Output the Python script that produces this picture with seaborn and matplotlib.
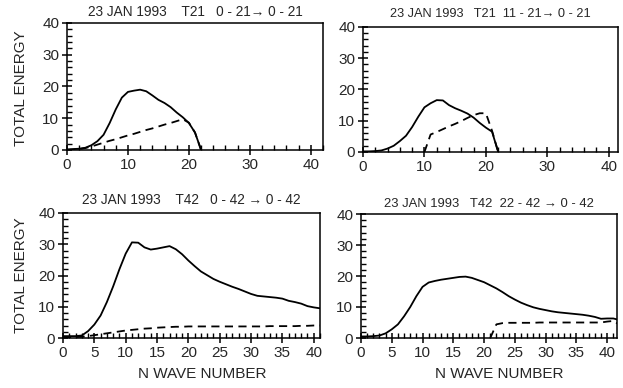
import matplotlib
matplotlib.use("Agg")
import matplotlib.pyplot as plt
from matplotlib.ticker import MultipleLocator
import pandas as pd
import seaborn as sns

# Wave numbers for the two truncations
wave_t21 = list(range(0, 23))
wave_t42 = list(range(0, 43))

# T21, 0-21 -> 0-21
t21_full_total = [0.2, 0.3, 0.4, 0.7, 1.5, 2.8, 4.8, 8.5, 12.8, 16.5, 18.3, 18.7,
                  19.0, 18.5, 17.2, 15.8, 14.8, 13.5, 11.8, 10.3, 8.5, 5.5, 0.0]
t21_full_part = [0.0, 0.1, 0.3, 0.6, 1.1, 1.7, 2.3, 2.9, 3.4, 4.0, 4.6, 5.1,
                 5.7, 6.3, 6.8, 7.4, 8.0, 8.5, 9.1, 9.7, 8.6, 5.5, 0.0]

# T21, 11-21 -> 0-21
t21_high_total = [0.2, 0.2, 0.3, 0.5, 1.1, 2.0, 3.5, 5.2, 8.0, 11.3, 14.3, 15.6,
                  16.6, 16.5, 15.0, 14.0, 13.2, 12.3, 11.0, 9.3, 7.8, 6.5, 0.0]
t21_high_start = 10
t21_high_part = [0.0, 5.6, 6.4, 7.3, 8.2, 9.0, 9.9, 10.9, 11.8, 12.4, 12.4, 6.8, 0.0]

# T42, 0-42 -> 0-42
t42_full_total = [0.6, 0.6, 0.6, 0.8, 2.2, 4.3, 7.2, 11.5, 16.5, 22.0, 27.0, 30.6,
                  30.5, 29.0, 28.3, 28.6, 29.0, 29.4, 28.4, 26.8, 24.8, 23.0, 21.3,
                  20.1, 18.9, 18.0, 17.2, 16.4, 15.7, 14.9, 14.1, 13.5, 13.3, 13.1,
                  12.9, 12.6, 11.9, 11.5, 11.0, 10.2, 9.8, 9.5, 9.3]
t42_full_part = [0.2, 0.2, 0.3, 0.4, 0.6, 0.9, 1.2, 1.5, 1.8, 2.1, 2.4, 2.6,
                 2.8, 3.0, 3.1, 3.3, 3.4, 3.5, 3.6, 3.6, 3.7, 3.7, 3.7, 3.7,
                 3.7, 3.7, 3.7, 3.7, 3.7, 3.7, 3.7, 3.7, 3.7, 3.8, 3.8, 3.8,
                 3.8, 3.8, 3.9, 3.9, 4.0, 4.0, 4.0]

# T42, 22-42 -> 0-42
t42_high_total = [0.5, 0.5, 0.6, 0.8, 1.5, 2.8, 4.4, 7.0, 10.0, 13.5, 16.5, 17.9,
                  18.4, 18.8, 19.1, 19.4, 19.7, 19.8, 19.4, 18.7, 18.0, 17.0, 16.0,
                  14.8, 13.5, 12.4, 11.4, 10.6, 9.9, 9.4, 9.0, 8.6, 8.3, 8.1,
                  7.9, 7.7, 7.5, 7.2, 6.8, 6.2, 6.3, 6.3, 5.8]
t42_high_start = 21
t42_high_part = [0.0, 4.4, 4.8, 4.9, 4.9, 4.9, 4.9, 4.9, 5.0, 5.0, 5.0, 5.0,
                 5.0, 5.0, 5.0, 5.0, 5.0, 5.0, 5.0, 5.3, 5.5, 4.3]

titles = [
    "23 JAN 1993    T21   0 - 21\u2192 0 - 21",
    "23 JAN 1993   T21  11 - 21\u2192 0 - 21",
    "23 JAN 1993    T42   0 - 42 \u2192 0 - 42",
    "23 JAN 1993   T42  22 - 42 \u2192 0 - 42",
]
title_sizes = [9.8, 9.2, 9.8, 9.4]
y_label = "TOTAL ENERGY"
x_label = "N WAVE NUMBER"

sns.set_style("ticks")
plt.rcParams["font.family"] = ["Liberation Sans", "DejaVu Sans"]

W, H = 623, 388
fig = plt.figure(figsize=(W / 100, H / 100), dpi=100)


def add_axes(left, top, right, bottom):
    return fig.add_axes([left / W, 1 - bottom / H, (right - left) / W, (bottom - top) / H])


ax_tl = add_axes(67, 23, 323, 150)
ax_tr = add_axes(363, 27, 618, 152)
ax_bl = add_axes(63, 213, 320, 338)
ax_br = add_axes(361, 214, 617, 338)

panels = [
    (ax_tl, wave_t21, t21_full_total, wave_t21, t21_full_part, 42.0, 10, 2, 5.0),
    (ax_tr, wave_t21, t21_high_total, wave_t21[t21_high_start:], t21_high_part, 41.5, 10, 2, 7.5),
    (ax_bl, wave_t42, t42_full_total, wave_t42, t42_full_part, 41.0, 5, 1, 6.5),
    (ax_br, wave_t42, t42_high_total, wave_t42[t42_high_start:], t42_high_part, 41.6, 5, 1, 5.0),
]

dash = (0, (4.5, 3.0))
for (ax, xs, ys, xp, yp, xmax, xmaj, xmin, pad), title, tsize in zip(panels, titles, title_sizes):
    total = pd.DataFrame({"n": xs, "energy": ys})
    part = pd.DataFrame({"n": xp, "energy": yp})
    sns.lineplot(data=total, x="n", y="energy", ax=ax, color="black",
                 linewidth=1.3, estimator=None, sort=False)
    sns.lineplot(data=part, x="n", y="energy", ax=ax, color="black",
                 linewidth=1.3, linestyle=dash, estimator=None, sort=False)
    ax.set_xlim(0, xmax)
    ax.set_ylim(0, 40)
    ax.xaxis.set_major_locator(MultipleLocator(xmaj))
    ax.xaxis.set_minor_locator(MultipleLocator(xmin))
    ax.yaxis.set_major_locator(MultipleLocator(10))
    ax.yaxis.set_minor_locator(MultipleLocator(2))
    ax.tick_params(which="major", direction="inout", length=7, width=1.1,
                   color="black", labelsize=11, pad=2)
    ax.tick_params(which="minor", direction="in", length=3.5, width=1.0, color="black")
    for s in ax.spines.values():
        s.set_visible(True)
        s.set_color("black")
        s.set_linewidth(1.1)
    ax.set_xlabel("")
    ax.set_ylabel("")
    ax.set_title(title, fontsize=tsize, pad=pad)

for ax, cy in ((ax_tl, 88), (ax_bl, 275)):
    fig.text(21 / W, 1 - cy / H, y_label, rotation=90, ha="center", va="center",
             fontsize=11)

for ax in (ax_bl, ax_br):
    ax.set_xlabel(x_label, fontsize=11)
    ax.xaxis.set_label_coords(0.54, -0.23)

fig.savefig("out.png", dpi=100)
